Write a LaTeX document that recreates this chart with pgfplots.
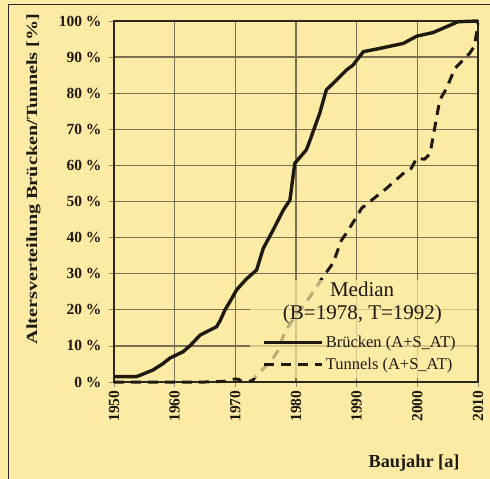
\documentclass[border=0pt]{standalone}
\usepackage{fontspec}
\setmainfont{Liberation Serif}
\usepackage{pgfplots}
\pgfplotsset{compat=1.18}
\definecolor{bg}{RGB}{252,235,165}
\definecolor{gridc}{RGB}{122,112,86}
\definecolor{ink}{RGB}{30,26,16}
\definecolor{axc}{RGB}{45,40,28}
\begin{document}
\begin{tikzpicture}
\fill[bg] (-114bp,-97bp) rectangle (376bp,382bp);
\begin{axis}[
  at={(0,0)}, anchor=south west,
  scale only axis, width=364bp, height=361bp,
  xmin=1950, xmax=2010, ymin=0, ymax=100,
  clip=false,
  xtick={1950,1960,1970,1980,1990,2000,2010},
  xticklabels={1950,1960,1970,1980,1990,2000,2010},
  ytick={0,10,20,30,40,50,60,70,80,90,100},
  yticklabels={0 \%,10 \%,20 \%,30 \%,40 \%,50 \%,60 \%,70 \%,80 \%,90 \%,100 \%},
  grid=major, major grid style={gridc, line width=1.3bp},
  axis line style={axc, line width=1.2bp},
  tick align=outside, xtick pos=bottom, ytick pos=left,
  major tick length=5bp, tick style={gridc!80, line width=0.8bp},
  xticklabel style={rotate=90, anchor=east, font=\fontsize{15.5bp}{18bp}\selectfont\bfseries, text=ink},
  yticklabel style={font=\fontsize{15.5bp}{18bp}\selectfont\bfseries, text=ink, xshift=-4bp},
  ylabel={\scalebox{1.3}[1]{Altersverteilung Brücken/Tunnels [\%]}},
  ylabel style={at={(axis description cs:-0.221,0.562)}, anchor=center, font=\fontsize{15.5bp}{18bp}\selectfont\bfseries, text=ink},
  xlabel={Baujahr [a]},
  xlabel style={at={(axis description cs:0.959,-0.238)}, anchor=base east, font=\fontsize{18.3bp}{21bp}\selectfont\bfseries, text=ink},
  legend style={at={(axis description cs:0.676,0.079)}, anchor=center, draw=none, fill=none,
    font=\fontsize{16.5bp}{19bp}\selectfont, text=ink, row sep=5bp, inner sep=1bp},
  legend cell align=left,
  legend image code/.code={\draw[#1] (0bp,0bp) -- (58bp,0bp);},
]
\addplot[ink, line width=3.4bp, line join=round] coordinates {
(1950,1.5) (1953.7,1.5) (1954.5,2) (1956.4,3.3) (1958,5) (1959.2,6.6) (1961.4,8.4) (1962.5,10)
(1964.2,13) (1966.9,15.3) (1967.5,17) (1968.3,20) (1969.2,22.5) (1970.2,25.5) (1971.8,28.5)
(1973.5,31) (1974.6,37) (1976.2,42) (1977.9,47.6) (1979,50.4) (1979.8,60.6) (1981.7,64.3)
(1982.1,66) (1983.9,74.4) (1985,80.9) (1986.1,82.7) (1988.3,86.4) (1989.4,87.8) (1991.1,91.5)
(1993.8,92.4) (1997.7,93.8) (1999.9,95.8) (2002.6,96.8) (2004.8,98.4) (2006.7,99.8) (2010,100)};
\addlegendentry{Brücken (A+S\_AT)}
\addplot[ink, line width=3bp, dash pattern=on 10bp off 7bp, line join=round] coordinates {
(1950,0) (1955,0) (1960,0) (1965,0) (1968.5,0.2) (1969.3,0.8) (1970.5,0.8) (1971,0.2)
(1972.8,0.3) (1973.3,1.5) (1974.5,3.5) (1976,6) (1977,8.6) (1978.2,14) (1980,18.5)
(1982.3,23.6) (1984.5,29.2) (1986.1,32.9) (1987.5,39.3) (1988.3,41.2) (1990,45.8) (1990.8,48.1)
(1992.2,50) (1994.9,53.6) (1997.7,57.8) (1999,59.2) (1999.9,62) (2001.2,61.7) (2002.1,63.3)
(2002.9,70.7) (2003.7,78.1) (2004.8,81.3) (2006.2,86.9) (2008.6,91) (2009.4,93) (2009.8,97) (2010,99.4)};
\addlegendentry{Tunnels (A+S\_AT)}
\fill[bg, fill opacity=0.7] (axis cs:1972.4,1.1) rectangle (axis cs:2009.7,28.3);
\node[anchor=base, font=\fontsize{21bp}{24bp}\selectfont, text=ink] at (axis cs:1990.9,23.8) {Median};
\node[anchor=base, font=\fontsize{21bp}{24bp}\selectfont, text=ink] at (axis cs:1990.95,17.2) {(B=1978, T=1992)};
\end{axis}
\draw[axc, line width=1bp] (-105bp,-97bp) -- (-105bp,377bp) -- (376bp,377bp);
\pgfresetboundingbox
\useasboundingbox (-114bp,-97bp) rectangle (376bp,382bp);
\end{tikzpicture}
\end{document}
